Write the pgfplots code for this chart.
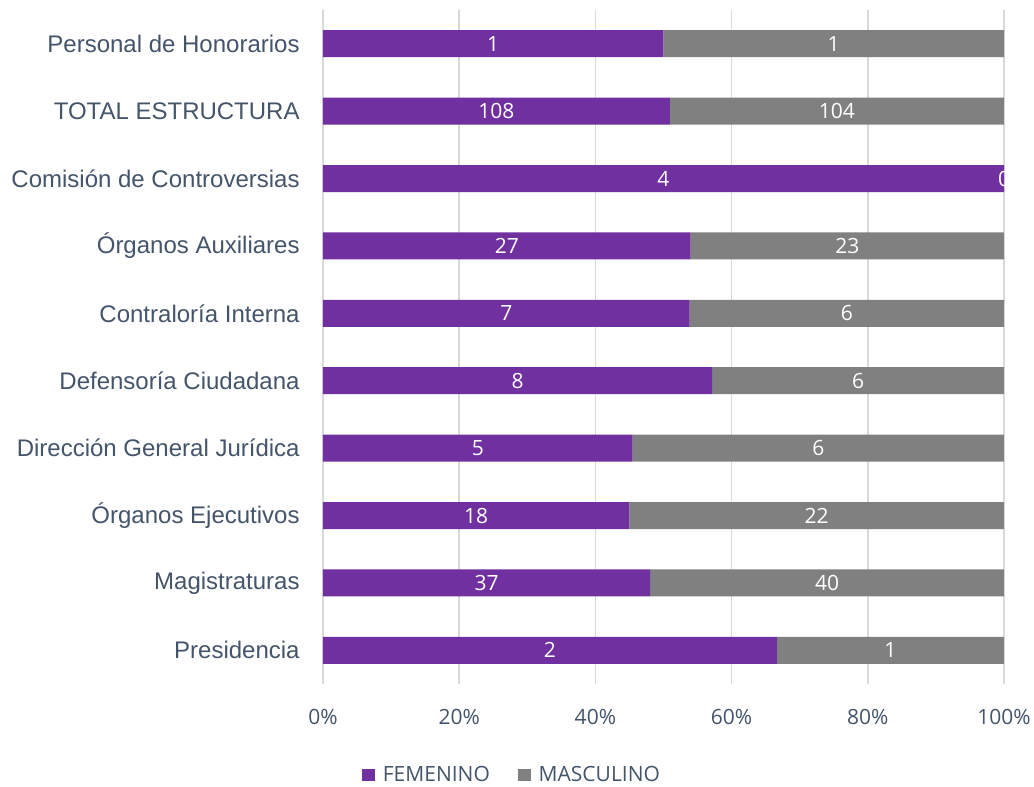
\documentclass[border=0pt]{standalone}
\usepackage{pgfplots}
\pgfplotsset{compat=1.18}
\usepackage{pgfplotstable}
\usepackage{fontspec}
\setmainfont{Liberation Sans}
\newfontfamily\osans{Open Sans}
\definecolor{fem}{HTML}{7030A0}
\definecolor{mas}{HTML}{808080}
\definecolor{txt}{HTML}{44546A}
\definecolor{grd}{HTML}{D9D9D9}

% y: 0 = Presidencia (bottom) ... 9 = Personal de Honorarios (top)
\pgfplotstableread{
y f m
0 2 1
1 37 40
2 18 22
3 5 6
4 8 6
5 7 6
6 27 23
7 4 0
8 108 104
9 1 1
}\datos

\begin{document}
\begin{tikzpicture}
\begin{axis}[
    name=ax,
    xbar stacked,
    bar width=13.5pt,
    scale only axis, width=340.5pt, height=337pt,
    xmin=0, xmax=100, ymin=-0.5, ymax=9.5,
    xtick={0,20,...,100},
    xticklabels={0\%,20\%,40\%,60\%,80\%,100\%},
    ytick={0,...,9},
    yticklabels={Presidencia,Magistraturas,Órganos Ejecutivos,Dirección General Jurídica,Defensoría Ciudadana,Contraloría Interna,Órganos Auxiliares,Comisión de Controversias,TOTAL ESTRUCTURA,Personal de Honorarios},
    xmajorgrids, grid style={grd, line width=0.75pt},
    axis line style={draw=none}, major tick length=0pt,
    yticklabel style={font=\fontsize{12}{14}\selectfont, text=txt, inner sep=0pt, xshift=-11.5pt},
    xticklabel style={font=\osans\fontsize{10.5}{12}\selectfont, text=txt, inner sep=0pt, anchor=north, yshift=-12.5pt},
    legend style={at={(0.279,-0.135)}, anchor=center, draw=none, fill=none,
        legend columns=-1, font=\osans\fontsize{10.5}{12}\selectfont, text=txt,
        /tikz/every even column/.append style={column sep=12pt}},
    legend image code/.code={\fill[#1] (0pt,-3.2pt) rectangle (6.4pt,3.2pt);},
    point meta=explicit symbolic,
    nodes near coords,
    nodes near coords style={font=\osans\fontsize{10.5}{12}\selectfont, text=white, anchor=center},
]
\addplot[fill=fem, draw=none]
    table[x expr=\thisrow{f}/(\thisrow{f}+\thisrow{m})*100, y=y, meta=f] {\datos};
\addlegendentry{\hspace{2pt}FEMENINO}
\addplot[fill=mas, draw=none]
    table[x expr=\thisrow{m}/(\thisrow{f}+\thisrow{m})*100, y=y, meta=m] {\datos};
\addlegendentry{\hspace{2pt}MASCULINO}
\end{axis}
% zero-width bar gets no label above, so its "0" sits on its own at the 100% edge
\begin{axis}[
    at={(ax.south west)}, anchor=south west,
    scale only axis, width=340.5pt, height=337pt,
    xmin=0, xmax=100, ymin=-0.5, ymax=9.5,
    hide axis, clip=false,
    point meta=explicit symbolic,
    nodes near coords,
    nodes near coords style={font=\osans\fontsize{10.5}{12}\selectfont, text=white, anchor=center},
]
\addplot[draw=none, mark=none] coordinates {(100,7) [0]};
\end{axis}
\pgfresetboundingbox
\path (ax.south west) ++(-161.5pt,-51pt) coordinate (bl);
\path (ax.north east) ++(15pt,5pt) coordinate (tr);
\path[use as bounding box] (bl) rectangle (tr);
\end{tikzpicture}
\end{document}
